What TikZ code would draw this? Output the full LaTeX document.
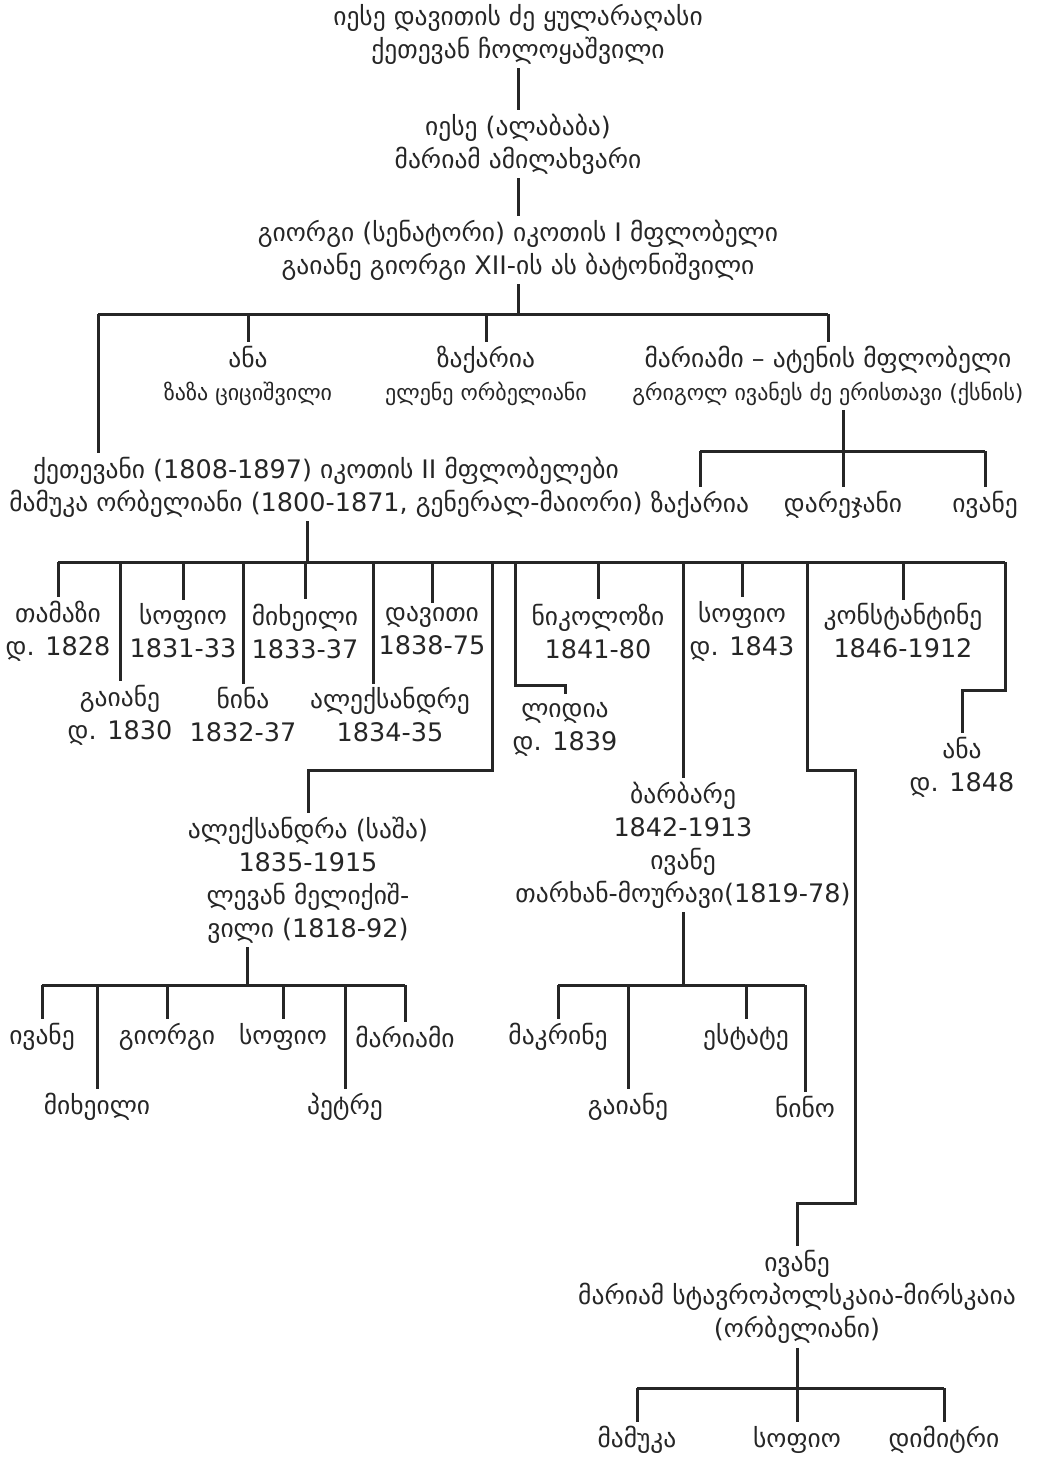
\documentclass[tikz,border=0pt]{standalone}
\usepackage{fontspec}
\setmainfont{DejaVu Sans}
\usetikzlibrary{positioning}

\newcommand{\wedname}[1]{{\fontsize{22}{30}\selectfont #1}}

\tikzset{
  person/.style={align=center, inner sep=4pt, text=black!85,
    font=\fontsize{25.5}{33}\selectfont},
  link/.style={line width=3pt, draw=black!85}
}

\begin{document}
\begin{tikzpicture}[x=1pt,y=-1pt]
	\useasboundingbox (0,0) rectangle (1038,1462);
	% top of the line
	\node[person] (iese1) at (518,34) {იესე დავითის ძე ყულარაღასი\\ქეთევან ჩოლოყაშვილი};
	\node[person] (iese2) at (518,144) {იესე (ალაბაბა)\\მარიამ ამილახვარი};
	\node[person] (giorgi) at (518,250) {გიორგი (სენატორი) იკოთის I მფლობელი\\გაიანე გიორგი XII-ის ას ბატონიშვილი};
	\draw[link] (iese1) -- (iese2);
	\draw[link] (iese2) -- (giorgi);

	% children of giorgi
	\node[person] (ana) at (248,376) {ანა\\\wedname{ზაზა ციციშვილი}};
	\node[person] (zaqaria) at (486,376) {ზაქარია\\\wedname{ელენე ორბელიანი}};
	\node[person] (mariami) at (828,376) {მარიამი -- ატენის მფლობელი\\\wedname{გრიგოლ ივანეს ძე ერისთავი (ქსნის)}};
	\node[person] (ketevan) at (326,487) {ქეთევანი (1808-1897) იკოთის II მფლობელები\\მამუკა ორბელიანი (1800-1871, გენერალ-მაიორი)};
	\coordinate (busA) at (518,314);
	\coordinate (kA) at (98,314);
	\draw[link] (giorgi) -- (busA);
	\draw[link] (kA) -- (mariami.north |- kA);
	\draw[link] (kA) -- (kA |- ketevan.north);
	\draw[link] (ana.north |- kA) -- (ana);
	\draw[link] (zaqaria.north |- kA) -- (zaqaria);
	\draw[link] (mariami.north |- kA) -- (mariami);

	% children of mariami
	\node[person] (zaqaria2) at (700,505) {ზაქარია};
	\node[person] (darejan) at (843,505) {დარეჯანი};
	\node[person] (ivane1) at (985,505) {ივანე};
	\coordinate (busB) at (843,451);
	\draw[link] (busB |- mariami.south) -- (darejan);
	\draw[link] (zaqaria2.north |- busB) -- (ivane1.north |- busB);
	\draw[link] (zaqaria2.north |- busB) -- (zaqaria2);
	\draw[link] (ivane1.north |- busB) -- (ivane1);

	% children of ketevan and mamuka
	\node[person] (tamaz) at (58,631) {თამაზი\\დ. 1828};
	\node[person] (sopio1) at (183,631) {სოფიო\\1831-33};
	\node[person] (mikheil1) at (305,631) {მიხეილი\\1833-37};
	\node[person] (davit) at (432,631) {დავითი\\1838-75};
	\node[person] (nikoloz) at (598,631) {ნიკოლოზი\\1841-80};
	\node[person] (sopio2) at (742,631) {სოფიო\\დ. 1843};
	\node[person] (konstantine) at (903,631) {კონსტანტინე\\1846-1912};
	\node[person] (gaiane1) at (120,715) {გაიანე\\დ. 1830};
	\node[person] (nina) at (243,715) {ნინა\\1832-37};
	\node[person] (aleksandre) at (390,715) {ალექსანდრე\\1834-35};
	\node[person] (lidia) at (565,729) {ლიდია\\დ. 1839};
	\node[person] (ana2) at (962,767) {ანა\\დ. 1848};
	\node[person] (barbare) at (683,845) {ბარბარე\\1842-1913\\ივანე\\თარხან-მოურავი(1819-78)};
	\node[person] (aleksandra) at (308,880) {ალექსანდრა (საშა)\\1835-1915\\ლევან მელიქიშ-\\ვილი (1818-92)};

	\coordinate (busC) at (307,562);
	\coordinate (kC1) at (492,770);
	\coordinate (kC2) at (515,685);
	\coordinate (kC3) at (807,770);
	\coordinate (kC4) at (855,1203);
	\coordinate (kC5) at (1005,690);
	\draw[link] (ketevan.south -| busC) -- (busC);
	\draw[link] (tamaz.north |- busC) -- (kC5 |- busC);
	\draw[link] (tamaz.north |- busC) -- (tamaz);
	\draw[link] (sopio1.north |- busC) -- (sopio1);
	\draw[link] (mikheil1.north |- busC) -- (mikheil1);
	\draw[link] (davit.north |- busC) -- (davit);
	\draw[link] (nikoloz.north |- busC) -- (nikoloz);
	\draw[link] (sopio2.north |- busC) -- (sopio2);
	\draw[link] (konstantine.north |- busC) -- (konstantine);
	\draw[link] (gaiane1.north |- busC) -- (gaiane1);
	\draw[link] (nina.north |- busC) -- (nina);
	\draw[link] ([xshift=-17pt]aleksandre.north |- busC) -- ([xshift=-17pt]aleksandre.north);
	\draw[link] (barbare.north |- busC) -- (barbare);
	\draw[link] (kC1 |- busC) -- (kC1) -| (aleksandra.north);
	\draw[link] (kC2 |- busC) -- (kC2) -| ([yshift=4pt]lidia.north);
	\draw[link] (kC5 |- busC) -- (kC5) -| (ana2.north);

	% children of aleksandra
	\node[person] (ivane2) at (42,1037) {ივანე};
	\node[person] (giorgi2) at (167,1037) {გიორგი};
	\node[person] (sopio3) at (283,1037) {სოფიო};
	\node[person] (mariam2) at (405,1037) {მარიამი};
	\node[person] (mikheil2) at (97,1107) {მიხეილი};
	\node[person] (petre) at (345,1107) {პეტრე};
	\coordinate (busD) at (247,985);
	\draw[link] (busD |- aleksandra.south) -- (busD);
	\draw[link] (ivane2.north |- busD) -- (mariam2.north |- busD);
	\foreach \kid in {ivane2,giorgi2,sopio3,mariam2,mikheil2,petre}
		\draw[link] (\kid.north |- busD) -- (\kid);

	% children of barbare
	\node[person] (makrine) at (558,1037) {მაკრინე};
	\node[person] (estate) at (746,1037) {ესტატე};
	\node[person] (gaiane2) at (628,1107) {გაიანე};
	\node[person] (nino) at (805,1107) {ნინო};
	\coordinate (busE) at (683,985);
	\draw[link] (barbare) -- (busE);
	\draw[link] (makrine.north |- busE) -- (nino.north |- busE);
	\foreach \kid in {makrine,estate,gaiane2,nino}
		\draw[link] (\kid.north |- busE) -- (\kid);

	% ivane and his children
	\node[person] (ivane3) at (797,1297) {ივანე\\მარიამ სტავროპოლსკაია-მირსკაია\\(ორბელიანი)};
	\draw[link] (kC3 |- busC) -- (kC3) -| (kC4) -| (ivane3.north);
	\node[person] (mamuka) at (637,1440) {მამუკა};
	\node[person] (sopio4) at (797,1440) {სოფიო};
	\node[person] (dimitri) at (944,1440) {დიმიტრი};
	\coordinate (busF) at (797,1388);
	\draw[link] (ivane3) -- (busF);
	\draw[link] (mamuka.north |- busF) -- (dimitri.north |- busF);
	\foreach \kid in {mamuka,sopio4,dimitri}
		\draw[link] (\kid.north |- busF) -- (\kid);
\end{tikzpicture}
\end{document}
